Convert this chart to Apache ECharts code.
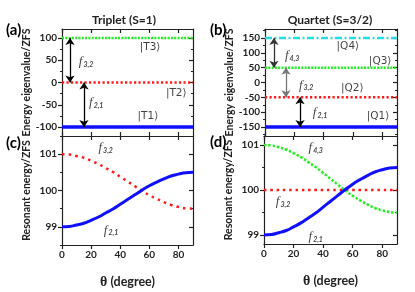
<!DOCTYPE html>
<html><head><meta charset="utf-8">
<script src="https://cdn.jsdelivr.net/npm/echarts@6/dist/echarts.min.js"></script>
<style>html,body{margin:0;padding:0;background:#fff}#c{width:415px;height:292px}</style>
</head><body><div id="c"></div>
<script>
// ---- data ----
const theta = [0,5,10,15,20,25,30,35,40,45,50,55,60,65,70,75,80,85,90];
const triF21 = [99.00,99.01,99.05,99.10,99.18,99.27,99.38,99.49,99.62,99.75,99.88,100.01,100.13,100.23,100.32,100.40,100.45,100.49,100.50];
const triF32 = [101.00,100.99,100.95,100.90,100.82,100.73,100.62,100.51,100.38,100.25,100.12,99.99,99.87,99.77,99.68,99.60,99.55,99.51,99.50];
const quaF21 = [99.00,99.01,99.05,99.10,99.18,99.27,99.38,99.49,99.62,99.75,99.88,100.01,100.13,100.23,100.32,100.40,100.45,100.49,100.50];
const quaF32 = [100,100,100,100,100,100,100,100,100,100,100,100,100,100,100,100,100,100,100];
const quaF43 = [101.00,100.99,100.95,100.90,100.82,100.73,100.62,100.51,100.38,100.25,100.12,99.99,99.87,99.77,99.68,99.60,99.55,99.51,99.50];
const tripletLevels = [-100, 0, 100];
const tripletNames = ['|T1\u27E9','|T2\u27E9','|T3\u27E9'];
const quartetLevels = [-150, -50, 50, 150];
const quartetNames = ['|Q1\u27E9','|Q2\u27E9','|Q3\u27E9','|Q4\u27E9'];
const ticksX = [0,20,40,60,80];
const ticksA = [-100,-50,0,50,100];
const ticksB = [-150,-100,-50,0,50,100,150];
const ticksCD = [99,100,101];

// ---- helpers ----
const FONT = 'Lato';
const DARK = '#222';
const grids = [
  {left:62, top:29, width:131, height:107},
  {left:265, top:29, width:132, height:107},
  {left:62, top:136, width:131, height:109},
  {left:264, top:136, width:133, height:108}
];
const xAxis = [], yAxis = [];
function addX(gi, showLabels){
  const base = {gridIndex:gi, type:'value', min:0, max:90, splitLine:{show:false}};
  xAxis.push(Object.assign({}, base, {
    position:'bottom',
    axisLine:{onZero:false, lineStyle:{color:DARK, width:1.2}},
    axisTick:{show:true, inside:!showLabels, length:4, customValues:ticksX, lineStyle:{color:DARK, width:1.2}},
    axisLabel:{show:showLabels, customValues:ticksX, color:DARK, fontFamily:FONT, fontWeight:'bold', fontSize:10, margin:5},
    name: showLabels ? '{t|\u03B8} (degree)' : '',
    nameLocation:'middle', nameGap:30,
    nameTextStyle:{color:DARK, fontFamily:FONT, fontSize:12.5, fontWeight:'bold',
      rich:{t:{fontFamily:'Liberation Serif', fontSize:14, color:DARK}}}
  }));
  const top = xAxis.length;
  xAxis.push(Object.assign({}, base, {
    position:'top',
    axisLine:{onZero:false, lineStyle:{color:DARK, width:1.2}},
    axisTick:{show:true, inside:true, length:4, customValues:ticksX, lineStyle:{color:DARK, width:1.2}},
    axisLabel:{show:false}
  }));
  return top - 1;
}
function addY(gi, min, max, major, minor, name){
  const base = {gridIndex:gi, type:'value', min:min, max:max, splitLine:{show:false}};
  const idx = yAxis.length;
  yAxis.push(Object.assign({}, base, {
    position:'left',
    axisLine:{show:true, onZero:false, lineStyle:{color:DARK, width:1.2}},
    axisTick:{show:true, inside:false, length:4, customValues:major, lineStyle:{color:DARK, width:1.2}},
    axisLabel:{show:true, customValues:major, color:DARK, fontFamily:FONT, fontWeight:'bold', fontSize:10, margin:5},
    name:name, nameLocation:'middle', nameGap:(max-min>10?27:30),
    nameTextStyle:{color:DARK, fontFamily:FONT, fontSize:10.5, fontWeight:'bold'}
  }));
  yAxis.push(Object.assign({}, base, {
    position:'left', axisLine:{show:false, onZero:false},
    axisTick:{show:true, inside:false, length:2, customValues:minor, lineStyle:{color:DARK, width:1}},
    axisLabel:{show:false}
  }));
  yAxis.push(Object.assign({}, base, {
    position:'right',
    axisLine:{show:true, onZero:false, lineStyle:{color:DARK, width:1.2}},
    axisTick:{show:true, inside:true, length:4, customValues:major, lineStyle:{color:DARK, width:1.2}},
    axisLabel:{show:false}
  }));
  yAxis.push(Object.assign({}, base, {
    position:'right', axisLine:{show:false, onZero:false},
    axisTick:{show:true, inside:true, length:2, customValues:minor, lineStyle:{color:DARK, width:1}},
    axisLabel:{show:false}
  }));
  return idx;
}
function range(a,b,s){const r=[];for(let v=a;v<=b+1e-9;v+=s)r.push(Math.round(v*100)/100);return r;}

const xa = addX(0,false), xb = addX(1,false), xc = addX(2,true), xd = addX(3,true);
const ya = addY(0,-120,120,ticksA,range(-100,100,25),'Energy eigenvalue/ZFS');
const yb = addY(1,-180,180,ticksB,range(-175,175,25),'Energy eigenvalue/ZFS');
const yc = addY(2,98.5,101.5,ticksCD,range(98.5,101.5,0.5),'Resonant energy/ZFS');
const yd = addY(3,98.8,101.2,ticksCD,range(99,101,0.5),'Resonant energy/ZFS');

const BLUE='#1010ff', RED='#ff1a1a', GREEN='#22ee22', CYAN='#22dde6';
const series = [];
function level(xi, yi, y, color, width, dash){
  series.push({type:'line', xAxisIndex:xi, yAxisIndex:yi, data:[[0,y],[90,y]], symbol:'none', silent:true,
    lineStyle:{color:color, width:width, type:dash}});
}
function curve(xi, yi, vals, color, width, dash){
  series.push({type:'line', xAxisIndex:xi, yAxisIndex:yi, data:theta.map((t,i)=>[t,vals[i]]), symbol:'none', smooth:true, silent:true,
    lineStyle:{color:color, width:width, type:dash}});
}
function arrows(xi, yi, list){
  series.push({type:'line', xAxisIndex:xi, yAxisIndex:yi, data:[], symbol:'none', silent:true,
    markLine:{silent:true, symbol:['arrow','arrow'], symbolSize:7, label:{show:false},
      data:list.map(a=>[{coord:[a[0],a[1]], lineStyle:{color:a[3]}},{coord:[a[0],a[2]]}]),
      lineStyle:{width:1.3, type:'solid', color:'#000'}}});
}
const fRich = {
  f:{fontFamily:'Liberation Serif', fontStyle:'italic', fontSize:13, color:'#111', verticalAlign:'bottom', lineHeight:14},
  s:{fontFamily:FONT, fontStyle:'italic', fontWeight:'bold', fontSize:7, color:'#111', verticalAlign:'bottom', lineHeight:14, padding:[8,0,0,1]}
};
function labels(xi, yi, list){
  series.push({type:'scatter', xAxisIndex:xi, yAxisIndex:yi, symbolSize:0, silent:true,
    data:list.map(l=>({value:[l[0],l[1]], name:l[2]})),
    label:{show:true, position:'inside', formatter:p=>p.name, color:'#111', fontFamily:'DejaVu Sans', fontSize:10.5, rich:fRich}});
}

// panel a
level(xa, ya, tripletLevels[0], BLUE, 3.5, 'solid');
level(xa, ya, tripletLevels[1], RED, 2.5, [2.2,2.3]);
level(xa, ya, tripletLevels[2], GREEN, 2.5, [2,1.3]);
arrows(xa, ya, [[5.5,tripletLevels[2],tripletLevels[1],'#000'],[15.1,tripletLevels[1],tripletLevels[0],'#000']]);
labels(xa, ya, [[60.5,80,tripletNames[2]],[78.5,-24,tripletNames[1]],[59,-76,tripletNames[0]],
  [16.5,47,'{f|f}{s|3,2}'],[23.5,-44,'{f|f}{s|2,1}']]);
// panel b
level(xb, yb, quartetLevels[0], BLUE, 3.5, 'solid');
level(xb, yb, quartetLevels[1], RED, 2.5, [2.2,2.3]);
level(xb, yb, quartetLevels[2], GREEN, 2.5, [2,1.3]);
level(xb, yb, quartetLevels[3], CYAN, 2.5, [7,2.5,2,2.5]);
arrows(xb, yb, [[6.1,quartetLevels[3],quartetLevels[2],'#333'],[14.3,quartetLevels[2],quartetLevels[1],'#777'],[23.9,quartetLevels[1],quartetLevels[0],'#000']]);
labels(xb, yb, [[56.5,123,quartetNames[3]],[78.5,73,quartetNames[2]],[59.5,-20,quartetNames[1]],[77,-113,quartetNames[0]],
  [18.5,93,'{f|f}{s|4,3}'],[28,-7,'{f|f}{s|3,2}'],[37.5,-100,'{f|f}{s|2,1}']]);
// panel c
curve(xc, yc, triF32, RED, 2.5, [2.5,4.2]);
curve(xc, yc, triF21, BLUE, 3, 'solid');
labels(xc, yc, [[30,101.19,'{f|f}{s|3,2}'],[33.7,98.92,'{f|f}{s|2,1}']]);
// panel d
curve(xd, yd, quaF32, RED, 2.5, [2.5,3.8]);
curve(xd, yd, quaF43, GREEN, 2.5, [2.5,1.8]);
curve(xd, yd, quaF21, BLUE, 3, 'solid');
labels(xd, yd, [[35,100.96,'{f|f}{s|4,3}'],[12.9,99.76,'{f|f}{s|3,2}'],[35,98.98,'{f|f}{s|2,1}']]);

const chart = echarts.init(document.getElementById('c'), null, {renderer:'canvas'});
chart.setOption({
  animation:false,
  backgroundColor:'#fff',
  title:[
    {text:'Triplet (S=1)', left:119, top:9, textAlign:'center', textStyle:{fontFamily:FONT, fontWeight:'bold', fontSize:12, color:DARK}},
    {text:'Quartet (S=3/2)', left:325, top:9, textAlign:'center', textStyle:{fontFamily:FONT, fontWeight:'bold', fontSize:12, color:DARK}},
    {text:'(a)', left:1, top:18, textStyle:{fontFamily:FONT, fontWeight:'bold', fontSize:15, color:'#000'}},
    {text:'(b)', left:205, top:18, textStyle:{fontFamily:FONT, fontWeight:'bold', fontSize:15, color:'#000'}},
    {text:'(c)', left:1, top:131, textStyle:{fontFamily:FONT, fontWeight:'bold', fontSize:15, color:'#000'}},
    {text:'(d)', left:205, top:130, textStyle:{fontFamily:FONT, fontWeight:'bold', fontSize:15, color:'#000'}}
  ],
  grid:grids,
  xAxis:xAxis,
  yAxis:yAxis,
  series:series
});
</script></body></html>
